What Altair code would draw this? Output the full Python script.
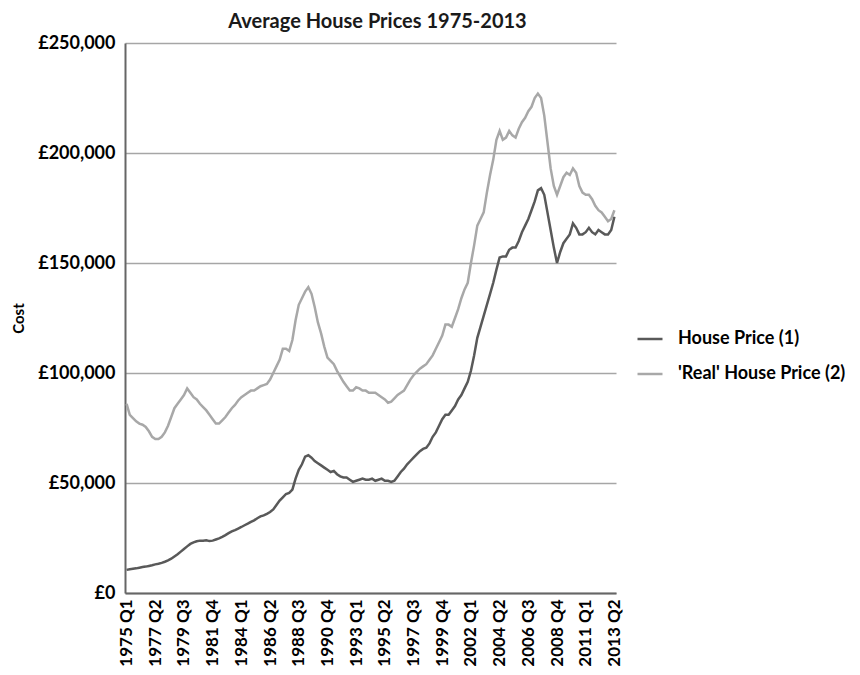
import altair as alt
import pandas as pd

# Quarterly series, 1975 Q1 .. 2013 Q2 (thousands of £)
house_price = [
    10.5, 10.8, 11, 11.2, 11.5, 11.8, 12, 12.3, 12.6, 13,
    13.3, 13.7, 14.2, 14.8, 15.6, 16.6, 17.6, 18.8, 20, 21.2,
    22.3, 23, 23.5, 23.8, 23.8, 24, 23.6, 23.8, 24.3, 24.8,
    25.5, 26.3, 27.2, 28, 28.6, 29.3, 30, 30.8, 31.5, 32.3,
    33, 34, 34.8, 35.3, 36, 36.8, 38, 40, 42, 43.5,
    45, 45.5, 47, 52, 56, 58.5, 62, 62.6, 61.5, 60,
    59, 58, 57, 56, 55, 55.5, 54, 53, 52.5, 52.5,
    51.5, 50.5, 51, 51.5, 52, 51.5, 51.5, 52, 51, 51.5,
    52, 51, 51, 50.5, 51, 53, 55, 56.5, 58.5, 60,
    61.5, 63, 64.5, 65.5, 66, 68, 71, 73, 76, 79,
    81, 81, 83, 85, 88, 90, 93, 96, 101, 108,
    116, 121, 126, 131, 136, 141, 147, 152.5, 153, 153,
    156, 157, 157, 160, 164, 167, 170, 174, 178, 183,
    184, 181, 173, 165, 157, 150, 155, 159, 161, 163,
    168, 166, 163, 163, 164, 166, 164, 163, 165, 164,
    163, 163, 165, 171,
]
real_house_price = [
    86, 81, 79.5, 78, 77, 76.5, 75.5, 73.5, 71, 70,
    70, 71, 73, 76, 80, 84, 86, 88, 90, 93,
    91, 89, 88, 86, 84.5, 83, 81, 79, 77, 77,
    78.5, 80, 82, 84, 85.5, 87.5, 89, 90, 91, 92,
    92, 93, 94, 94.5, 95, 97, 100, 103, 106, 111,
    111, 110, 115, 124, 131, 134, 137, 139, 136, 130,
    123, 118, 112, 107, 105.5, 104, 101, 98.5, 96, 94,
    92, 92, 93.5, 93, 92, 92, 91, 91, 91, 90,
    89, 88, 86.5, 87, 88.5, 90, 91, 92, 94.5, 97,
    99, 100.5, 102, 103, 104, 106, 108, 111, 114, 117,
    122, 122, 121, 125, 129, 134, 138, 141, 150, 158,
    167, 170, 173, 182, 190, 197, 206, 210, 206, 207,
    210, 208, 207, 211, 214, 216, 219, 221, 225, 227,
    225, 217, 205, 193, 185, 181, 185, 189, 191, 190,
    193, 191, 185, 182, 181, 181, 179, 176, 174, 173,
    171, 169, 170, 174,
]

series_names = ["House Price (1)", "'Real' House Price (2)"]
series_colors = ["#595959", "#a8a8a8"]

quarters = []
for year in range(1975, 2014):
    for q in range(1, 5):
        quarters.append(f"{year} Q{q}")
quarters = quarters[:len(house_price)]
tick_labels = quarters[::9]

rows = []
for i, qtr in enumerate(quarters):
    rows.append({"quarter": qtr, "order": i, "series": series_names[0], "value": house_price[i] * 1000})
    rows.append({"quarter": qtr, "order": i, "series": series_names[1], "value": real_house_price[i] * 1000})
df = pd.DataFrame(rows)

FONT = "Lato"

chart = (
    alt.Chart(df)
    .mark_line(strokeWidth=2.5)
    .encode(
        x=alt.X(
            "quarter:O",
            sort=quarters,
            scale=alt.Scale(type="point", padding=0.5),
            axis=alt.Axis(
                values=tick_labels,
                labelAngle=-90,
                labelFontSize=17,
                labelFontWeight="bold",
                labelColor="#000000",
                labelPadding=6,
                ticks=False,
                domainColor="#666666",
                domainWidth=2,
                grid=False,
                title=None,
            ),
        ),
        y=alt.Y(
            "value:Q",
            scale=alt.Scale(domain=[0, 250000]),
            axis=alt.Axis(
                values=[0, 50000, 100000, 150000, 200000, 250000],
                labelExpr="'£' + format(datum.value, ',')",
                labelFontSize=18,
                labelFontWeight="bold",
                labelColor="#000000",
                labelPadding=10,
                ticks=False,
                domainColor="#666666",
                domainWidth=2,
                gridColor="#a6a6a6",
                gridWidth=1.5,
                title="Cost",
                titleFontSize=15,
                titleFontWeight="bold",
                titleColor="#000000",
                titlePadding=11,
            ),
        ),
        color=alt.Color(
            "series:N",
            sort=series_names,
            scale=alt.Scale(domain=series_names, range=series_colors),
            legend=alt.Legend(
                title=None,
                orient="none",
                legendX=511,
                legendY=282,
                symbolType="stroke",
                symbolSize=625,
                symbolStrokeWidth=2.5,
                labelFontSize=18,
                labelFontWeight="bold",
                labelColor="#000000",
                labelOffset=14,
                labelLimit=400,
                rowPadding=12,
            ),
        ),
        order="order:Q",
    )
    .properties(
        width=491,
        height=550,
        title=alt.TitleParams(
            "Average House Prices 1975-2013",
            fontSize=20,
            fontWeight="bold",
            color="#1a1a1a",
            anchor="middle",
            offset=2,
            dx=7,
        ),
        padding={"left": 117, "top": 35, "right": 230, "bottom": 75},
        autosize=alt.AutoSizeParams(type="none"),
    )
    .configure(font=FONT)
    .configure_view(stroke=None)
)

chart.save("out.html", embed_options={"renderer": "svg", "actions": False})
